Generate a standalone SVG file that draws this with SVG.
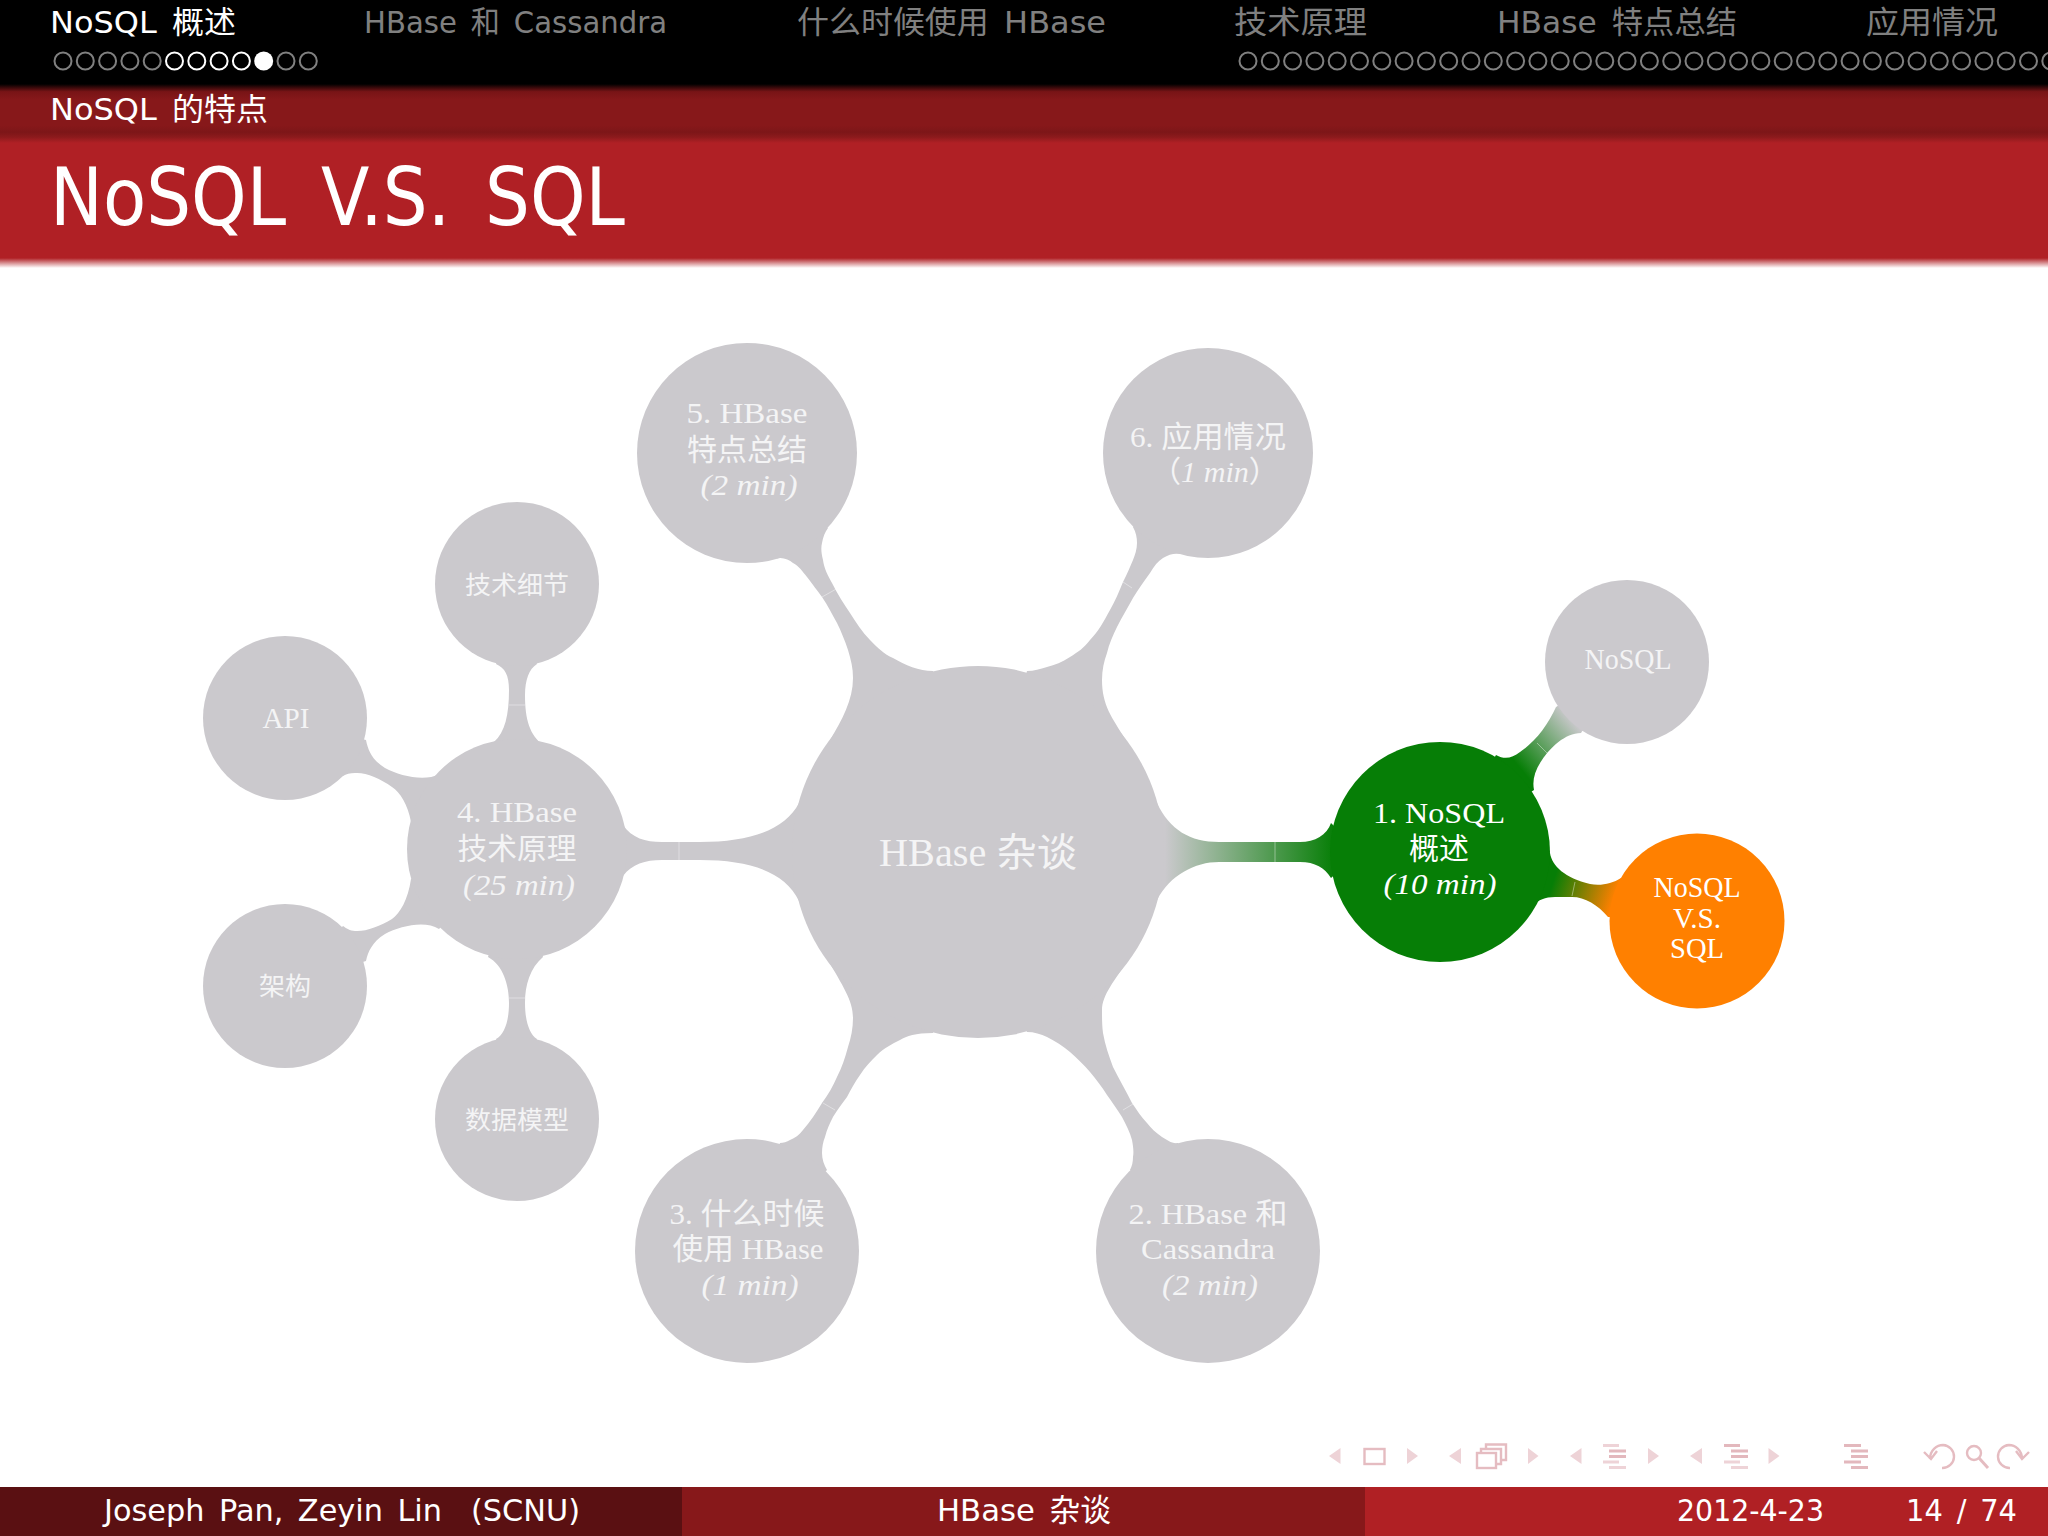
<svg xmlns="http://www.w3.org/2000/svg" width="2048" height="1536" viewBox="0 0 2048 1536">
<style>
.s{font-family:"DejaVu Sans","Noto Sans CJK SC",sans-serif;fill:#fff}
.d{fill:#808080}
.h{font-size:31px;word-spacing:5px}
.n{font-family:"Liberation Serif","Noto Sans CJK SC",serif;font-size:30px;fill:#f4f4f5;text-anchor:middle}
.w{fill:#fff}
.i{font-style:italic}
.g{fill:#cbc9cd}
.seam{stroke:#fff;stroke-opacity:.4;stroke-width:1;fill:none}
.dg{fill:none;stroke:#808080;stroke-width:2}
.dw{fill:none;stroke:#fff;stroke-width:2}
.t1{fill:#eed3d7}
.t2{fill:#e3b8bd}
.ln{fill:none;stroke:#e5bcc1;stroke-width:2.4}
</style>
<defs>
<linearGradient id="hb" x1="0" y1="84" x2="0" y2="143" gradientUnits="userSpaceOnUse">
<stop offset="0" stop-color="#000"/><stop offset=".13" stop-color="#781416"/><stop offset=".27" stop-color="#87181a"/><stop offset=".7" stop-color="#87181a"/><stop offset=".82" stop-color="#7d1618"/><stop offset=".9" stop-color="#8c1a1c"/><stop offset="1" stop-color="#b02025"/>
</linearGradient>
<linearGradient id="hf" x1="0" y1="0" x2="0" y2="1"><stop offset="0" stop-color="#b02025"/><stop offset="1" stop-color="#fff"/></linearGradient>
<linearGradient id="gc1" x1="1165" y1="0" x2="1335" y2="0" gradientUnits="userSpaceOnUse"><stop offset="0" stop-color="#cbc9cd"/><stop offset="1" stop-color="#067e06"/></linearGradient>
<linearGradient id="g1n" x1="1520" y1="768" x2="1575" y2="722" gradientUnits="userSpaceOnUse"><stop offset="0" stop-color="#067e06"/><stop offset="1" stop-color="#cbc9cd"/></linearGradient>
<linearGradient id="g1o" x1="1552" y1="885" x2="1612" y2="905" gradientUnits="userSpaceOnUse"><stop offset="0" stop-color="#067e06"/><stop offset="1" stop-color="#ff8000"/></linearGradient>
</defs>
<rect width="2048" height="1536" fill="#fff"/>
<rect width="2048" height="85" fill="#000"/>
<rect y="84" width="2048" height="59" fill="url(#hb)"/>
<rect y="143" width="2048" height="115" fill="#b02025"/>
<rect y="258" width="2048" height="10" fill="url(#hf)"/>
<text class="s h" x="50" y="33" textLength="186" lengthAdjust="spacingAndGlyphs">NoSQL 概述</text>
<text class="s h d" x="364" y="33" textLength="303" lengthAdjust="spacingAndGlyphs">HBase 和 Cassandra</text>
<text class="s h d" x="797" y="33" textLength="309" lengthAdjust="spacingAndGlyphs">什么时候使用 HBase</text>
<text class="s h d" x="1234" y="33" textLength="133" lengthAdjust="spacingAndGlyphs">技术原理</text>
<text class="s h d" x="1497" y="33" textLength="240" lengthAdjust="spacingAndGlyphs">HBase 特点总结</text>
<text class="s h d" x="1866" y="33" textLength="132" lengthAdjust="spacingAndGlyphs">应用情况</text>
<g id="nav-dots">
<circle class="dg" cx="63" cy="61" r="8.5"/><circle class="dg" cx="85.3" cy="61" r="8.5"/><circle class="dg" cx="107.6" cy="61" r="8.5"/><circle class="dg" cx="129.9" cy="61" r="8.5"/><circle class="dg" cx="152.2" cy="61" r="8.5"/>
<circle class="dw" cx="174.5" cy="61" r="8.5"/><circle class="dw" cx="196.8" cy="61" r="8.5"/><circle class="dw" cx="219.1" cy="61" r="8.5"/><circle class="dw" cx="241.4" cy="61" r="8.5"/>
<circle cx="263.7" cy="61" r="9.5" fill="#fff"/>
<circle class="dg" cx="286" cy="61" r="8.5"/><circle class="dg" cx="308.3" cy="61" r="8.5"/>
<circle class="dg" cx="1248" cy="61" r="8.5"/><circle class="dg" cx="1270.3" cy="61" r="8.5"/><circle class="dg" cx="1292.6" cy="61" r="8.5"/><circle class="dg" cx="1314.9" cy="61" r="8.5"/><circle class="dg" cx="1337.2" cy="61" r="8.5"/><circle class="dg" cx="1359.5" cy="61" r="8.5"/><circle class="dg" cx="1381.8" cy="61" r="8.5"/><circle class="dg" cx="1404.1" cy="61" r="8.5"/><circle class="dg" cx="1426.4" cy="61" r="8.5"/><circle class="dg" cx="1448.7" cy="61" r="8.5"/><circle class="dg" cx="1471" cy="61" r="8.5"/><circle class="dg" cx="1493.3" cy="61" r="8.5"/><circle class="dg" cx="1515.6" cy="61" r="8.5"/><circle class="dg" cx="1537.9" cy="61" r="8.5"/><circle class="dg" cx="1560.2" cy="61" r="8.5"/><circle class="dg" cx="1582.5" cy="61" r="8.5"/><circle class="dg" cx="1604.8" cy="61" r="8.5"/><circle class="dg" cx="1627.1" cy="61" r="8.5"/><circle class="dg" cx="1649.4" cy="61" r="8.5"/><circle class="dg" cx="1671.7" cy="61" r="8.5"/><circle class="dg" cx="1694" cy="61" r="8.5"/><circle class="dg" cx="1716.3" cy="61" r="8.5"/><circle class="dg" cx="1738.6" cy="61" r="8.5"/><circle class="dg" cx="1760.9" cy="61" r="8.5"/><circle class="dg" cx="1783.2" cy="61" r="8.5"/><circle class="dg" cx="1805.5" cy="61" r="8.5"/><circle class="dg" cx="1827.8" cy="61" r="8.5"/><circle class="dg" cx="1850.1" cy="61" r="8.5"/><circle class="dg" cx="1872.4" cy="61" r="8.5"/><circle class="dg" cx="1894.7" cy="61" r="8.5"/><circle class="dg" cx="1917" cy="61" r="8.5"/><circle class="dg" cx="1939.3" cy="61" r="8.5"/><circle class="dg" cx="1961.6" cy="61" r="8.5"/><circle class="dg" cx="1983.9" cy="61" r="8.5"/><circle class="dg" cx="2006.2" cy="61" r="8.5"/><circle class="dg" cx="2028.5" cy="61" r="8.5"/><circle class="dg" cx="2050.8" cy="61" r="8.5"/>
</g>
<text class="s h" x="50" y="120" textLength="218" lengthAdjust="spacingAndGlyphs">NoSQL 的特点</text>
<text class="s" x="50" y="225" font-size="80" word-spacing="14" textLength="575" lengthAdjust="spacingAndGlyphs">NoSQL V.S. SQL</text>

<g id="connectors">
<path class="g" d="M623,825 C632,838 645,842 662,842 L700,842 C750,842 785,830 799,803 L830,851 L799,901 C785,872 750,860 700,860 L662,860 C645,860 632,864 623,876 L600,851 Z"/>
<path fill="url(#gc1)" d="M1157,803 C1170,830 1190,842 1219,842 L1300,842 C1315,842 1327,835 1331,823 L1360,852 L1331,878 C1325,868 1315,862 1300,862 L1219,862 C1195,862 1170,875 1157,900 L1130,852 Z"/>
<path class="g" d="M777,558.500 C783,557 789,560 793,563 C799,566 803,572 807,577 C813,585 817,590 822,597 C828,606 832,614 837,623 C841,631 845,641 848,650 C851,660 853,668 853,678 C853,700 842,720 830,740 L978,852 L933,671 C919,671 905,665 893,658 C884,654 878,648 870,640 C862,632 856,622 850,613 C844,604 838,595 832,583 C828,576 824,568 823,560 C821,552 821,547 822,543 C823,537 825,532 828,528 L747,453 Z"/>
<path class="g" d="M1133,527 C1136,532 1137,538 1137,543 C1137,549 1135,555 1133,560 C1130,567 1127,574 1123,582 C1119,592 1115,601 1110,610 C1104,621 1098,632 1090,640 C1084,648 1078,652 1070,657 C1062,662 1055,665 1047,667 C1040,669 1034,671 1027,671 L978,852 L1126,740 C1112,718 1102,705 1102,680 C1102,670 1104,661 1107,653 C1109,644 1113,635 1117,627 C1122,617 1128,607 1133,598 C1138,590 1144,581 1150,573 C1154,566 1158,561 1163,558 C1169,554 1175,553 1180,554 L1208,453 Z"/>
<path class="g" d="M828,960 C842,985 853,1000 853,1018 C853,1028 851,1038 848,1047 C845,1058 842,1067 837,1077 C833,1086 828,1095 822,1103 C816,1113 810,1122 803,1130 C799,1135 795,1138 790,1140 C787,1142 783,1143 780,1143 L747,1251 L827,1170 C824,1165 822,1159 822,1153 C822,1147 823,1142 825,1137 C827,1129 830,1123 833,1117 C837,1110 842,1104 847,1097 C851,1089 855,1082 860,1075 C865,1067 871,1061 877,1055 C884,1048 892,1044 900,1040 C907,1036 915,1033 933,1033 L978,852 Z"/>
<path class="g" d="M1027,1032 C1034,1032 1041,1034 1047,1037 C1055,1041 1063,1046 1070,1052 C1077,1058 1084,1065 1090,1072 C1096,1079 1102,1087 1107,1095 C1112,1102 1117,1109 1122,1117 C1126,1125 1130,1132 1132,1140 C1133,1146 1134,1151 1133,1157 C1133,1162 1132,1166 1130,1170 L1208,1251 L1178,1143 C1172,1144 1167,1140 1162,1137 C1156,1133 1151,1128 1147,1123 C1141,1117 1137,1110 1132,1103 C1126,1091 1119,1079 1113,1067 C1109,1056 1105,1045 1103,1033 C1102,1025 1102,1018 1102,1010 C1102,995 1115,980 1128,960 L978,852 Z"/>
<path class="g" d="M496,664 C505,668 509,675 509,690 C509,715 505,732 494,742 L517,849 L543,745 C530,735 525,720 525,695 C525,680 529,669 537,664 L517,584 Z"/>
<path class="g" d="M488,957 C503,965 509,985 509,1003 C509,1020 505,1034 496,1039 L517,1119 L537,1039 C529,1034 525,1020 525,1003 C525,985 530,968 543,957 L517,849 Z"/>
<path class="g" d="M366,740 C368,750 372,760 385,768 C400,776 425,782 439,774 L517,849 L411,822 C408,805 400,792 392,787 C380,778 365,772 355,773 C350,773 346,774 343,776 L285,718 Z"/>
<path class="g" d="M343,926 C346,928 350,931 355,931 C365,932 380,926 392,919 C400,913 408,900 411,879 L517,849 L439,929 C425,920 400,926 385,934 C372,942 368,952 366,961 L285,986 Z"/>
<path fill="url(#g1n)" d="M1496,755 C1505,760 1512,758 1520,752 C1535,742 1548,725 1556,707 L1627,662 L1581,733 C1565,733 1550,748 1542,760 C1535,770 1532,780 1534,790 L1440,852 Z"/>
<path fill="url(#g1o)" d="M1550,853 C1552,866 1565,878 1590,884 C1600,886 1612,884 1621,878 L1697,921 L1608,917 C1598,905 1585,897 1572,897 L1555,897 C1545,897 1538,900 1534,905 L1440,852 Z"/>
<path class="seam" d="M679,842V860M509,705H525M509,998H525M1275,842V862M1537,743L1547,753M1575,882L1572,896M822,597L838,588M1123,582L1132,588M823,1103L835,1110M1123,1110L1133,1104"/>
</g>

<g id="node-center"><circle class="g" cx="978" cy="852" r="186"/><text class="n" x="978" y="866" style="font-size:39px" textLength="198" lengthAdjust="spacingAndGlyphs">HBase 杂谈</text></g>
<g id="node-1"><circle cx="1440" cy="852" r="110" fill="#067e06"/><text class="n w" x="1439" y="823" textLength="132" lengthAdjust="spacingAndGlyphs">1. NoSQL</text><text class="n w" x="1439" y="859">概述</text><text class="n w i" x="1440" y="894" textLength="113" lengthAdjust="spacingAndGlyphs">(10 min)</text></g>
<g id="node-nosql"><circle class="g" cx="1627" cy="662" r="82"/><text class="n" x="1628" y="669" textLength="87" lengthAdjust="spacingAndGlyphs">NoSQL</text></g>
<g id="node-vs"><circle cx="1697" cy="921" r="87.5" fill="#ff8000"/><text class="n w" x="1697" y="897" textLength="87" lengthAdjust="spacingAndGlyphs">NoSQL</text><text class="n w" x="1697" y="928" textLength="48" lengthAdjust="spacingAndGlyphs">V.S.</text><text class="n w" x="1697" y="958" textLength="54" lengthAdjust="spacingAndGlyphs">SQL</text></g>
<g id="node-2"><circle class="g" cx="1208" cy="1251" r="112"/><text class="n" x="1208" y="1224" textLength="159" lengthAdjust="spacingAndGlyphs">2. HBase 和</text><text class="n" x="1208" y="1259" textLength="134" lengthAdjust="spacingAndGlyphs">Cassandra</text><text class="n i" x="1210" y="1295" textLength="96" lengthAdjust="spacingAndGlyphs">(2 min)</text></g>
<g id="node-3"><circle class="g" cx="747" cy="1251" r="112"/><text class="n" x="747" y="1224" textLength="155" lengthAdjust="spacingAndGlyphs">3. 什么时候</text><text class="n" x="748" y="1259" textLength="151" lengthAdjust="spacingAndGlyphs">使用 HBase</text><text class="n i" x="750" y="1295" textLength="97" lengthAdjust="spacingAndGlyphs">(1 min)</text></g>
<g id="node-4"><circle class="g" cx="517" cy="849" r="110"/><text class="n" x="517" y="822" textLength="120" lengthAdjust="spacingAndGlyphs">4. HBase</text><text class="n" x="517" y="859" textLength="119" lengthAdjust="spacingAndGlyphs">技术原理</text><text class="n i" x="519" y="895" textLength="112" lengthAdjust="spacingAndGlyphs">(25 min)</text></g>
<g id="node-tech"><circle class="g" cx="517" cy="584" r="82"/><text class="n" x="517" y="594" style="font-size:25px" textLength="104" lengthAdjust="spacingAndGlyphs">技术细节</text></g>
<g id="node-api"><circle class="g" cx="285" cy="718" r="82"/><text class="n" x="286" y="728" textLength="47" lengthAdjust="spacingAndGlyphs">API</text></g>
<g id="node-arch"><circle class="g" cx="285" cy="986" r="82"/><text class="n" x="285" y="995" style="font-size:25px" textLength="52" lengthAdjust="spacingAndGlyphs">架构</text></g>
<g id="node-data"><circle class="g" cx="517" cy="1119" r="82"/><text class="n" x="517" y="1129" style="font-size:25px" textLength="104" lengthAdjust="spacingAndGlyphs">数据模型</text></g>
<g id="node-5"><circle class="g" cx="747" cy="453" r="110"/><text class="n" x="747" y="423" textLength="121" lengthAdjust="spacingAndGlyphs">5. HBase</text><text class="n" x="747" y="460" textLength="120" lengthAdjust="spacingAndGlyphs">特点总结</text><text class="n i" x="749" y="495" textLength="97" lengthAdjust="spacingAndGlyphs">(2 min)</text></g>
<g id="node-6"><circle class="g" cx="1208" cy="453" r="105"/><text class="n" x="1208" y="447" textLength="156" lengthAdjust="spacingAndGlyphs">6. 应用情况</text><text class="n" x="1215" y="482" textLength="128" lengthAdjust="spacingAndGlyphs">（<tspan class="i">1 min</tspan>）</text></g>

<g id="nav-icons">
<path class="t1" d="M1329,1456L1340.500,1448V1464ZM1418,1456L1407,1448V1464ZM1449,1456L1461,1448V1464ZM1538.500,1456L1528,1448V1464ZM1570,1456L1581.500,1448V1464ZM1659,1456L1648,1448V1464ZM1690,1456L1702,1448V1464ZM1779.500,1456L1768.500,1448V1464Z"/>
<rect class="ln" x="1364.500" y="1449" width="20" height="15"/>
<path class="ln" d="M1486,1449V1444.500H1506V1460H1501M1481,1453V1449H1501V1464H1496"/>
<rect class="ln" x="1477" y="1453" width="19" height="15"/>
<path class="t1" d="M1603,1444h16v3h-16ZM1603,1460.500h16v3h-16ZM1609,1466h17v3h-17ZM1724,1460.500h16v3h-16ZM1731,1466h17v3h-17Z"/>
<path class="t2" d="M1609,1449.500h17v3h-17ZM1609,1455h17v3h-17ZM1724,1444h16v3h-16ZM1731,1449.500h17v3h-17ZM1731,1455h17v3h-17ZM1844,1444h17v3h-17ZM1851,1449.500h17v3h-17ZM1851,1455h17v3h-17ZM1844,1460.500h17v3h-17ZM1851,1466h17v3h-17Z"/>
<path class="ln" d="M1930,1459C1930,1450 1937,1445 1943,1445A11.500,11.500 0 0 1 1942,1468M1924,1452L1931,1459L1937,1451"/>
<circle class="ln" cx="1974" cy="1453" r="7"/>
<path class="ln" style="stroke-width:3" d="M1979,1458L1988,1468"/>
<path class="ln" d="M2022,1459C2022,1450 2015,1445 2009,1445A11.500,11.500 0 0 0 2010,1468M2029,1452L2022,1459L2016,1451"/>
</g>

<rect y="1487" width="682" height="49" fill="#5a1012"/>
<rect x="682" y="1487" width="683" height="49" fill="#87181a"/>
<rect x="1365" y="1487" width="683" height="49" fill="#b02024"/>
<text class="s h" x="104" y="1521" textLength="476" lengthAdjust="spacingAndGlyphs">Joseph Pan, Zeyin Lin &#160;(SCNU)</text>
<text class="s h" x="937" y="1521" textLength="174" lengthAdjust="spacingAndGlyphs">HBase 杂谈</text>
<text class="s h" x="1677" y="1521" textLength="147" lengthAdjust="spacingAndGlyphs">2012-4-23</text>
<text class="s h" x="1906" y="1521" textLength="111" lengthAdjust="spacingAndGlyphs">14 / 74</text>
</svg>
